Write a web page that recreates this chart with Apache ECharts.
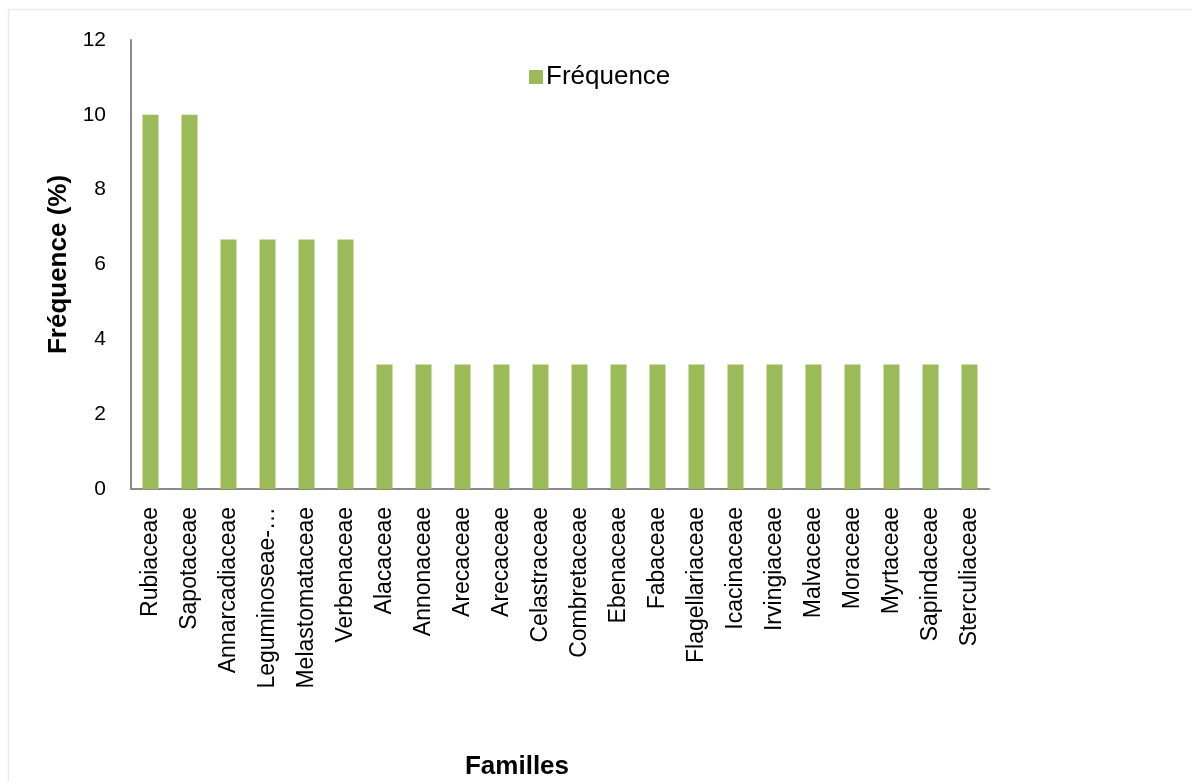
<!DOCTYPE html>
<html>
<head>
<meta charset="utf-8">
<script src="https://cdn.jsdelivr.net/npm/echarts@6/dist/echarts.min.js"></script>
<style>
html,body{margin:0;padding:0;background:#fff;}
#c{width:1192px;height:781px;}
</style>
</head>
<body>
<div id="c"></div>
<script>
const categories = ["Rubiaceae","Sapotaceae","Annarcadiaceae","Leguminoseae-…","Melastomataceae","Verbenaceae","Alacaceae","Annonaceae","Arecaceae","Arecaceae","Celastraceae","Combretaceae","Ebenaceae","Fabaceae","Flagellariaceae","Icacinaceae","Irvingiaceae","Malvaceae","Moraceae","Myrtaceae","Sapindaceae","Sterculiaceae"];
const frequence = [10,10,6.67,6.67,6.67,6.67,3.33,3.33,3.33,3.33,3.33,3.33,3.33,3.33,3.33,3.33,3.33,3.33,3.33,3.33,3.33,3.33];
const yTicks = {min:0, max:12, interval:2};
const xTitle = 'Familles';
const yTitle = 'Fréquence (%)';

const chart = echarts.init(document.getElementById('c'), null, {renderer:'canvas'});
const font = 'Liberation Sans, Arial, sans-serif';
chart.setOption({
  animation:false,
  backgroundColor:'#fff',
  textStyle:{fontFamily:font},
  graphic:[
    {type:'rect',shape:{x:8.5,y:9.5,width:1300,height:900},style:{fill:'none',stroke:'#ECE9DF',lineWidth:1.5},silent:true},
    {type:'text',x:517,y:767,style:{text:xTitle,fontSize:26,fontWeight:'bold',fill:'#000',fontFamily:font,align:'center',verticalAlign:'middle'},silent:true}
  ],
  legend:{
    left:524, top:59, itemWidth:14, itemHeight:14, itemGap:6, icon:'rect',
    textStyle:{fontSize:26,color:'#000',fontFamily:font,padding:[0,0,0,-2]},
    data:['Fréquence']
  },
  grid:{left:131, right:203, top:40, bottom:292, containLabel:false, outerBoundsMode:'none'},
  xAxis:{
    type:'category', data:categories,
    axisLine:{lineStyle:{color:'#898989',width:2}},
    axisTick:{show:false},
    axisLabel:{rotate:90, interval:0, fontSize:23, color:'#000', margin:18, fontFamily:font}
  },
  yAxis:{
    type:'value', min:yTicks.min, max:yTicks.max, interval:yTicks.interval,
    axisLine:{show:true, lineStyle:{color:'#898989',width:2}},
    axisTick:{show:false},
    splitLine:{show:false},
    axisLabel:{fontSize:21, color:'#000', margin:25, fontFamily:font},
    name:yTitle, nameLocation:'middle', nameGap:57, nameRotate:90,
    nameTextStyle:{fontSize:26, fontWeight:'bold', color:'#000', fontFamily:font}
  },
  series:[{
    name:'Fréquence', type:'bar', data:frequence,
    barWidth:16, itemStyle:{color:'#9BBB59'}
  }]
});
</script>
</body>
</html>
